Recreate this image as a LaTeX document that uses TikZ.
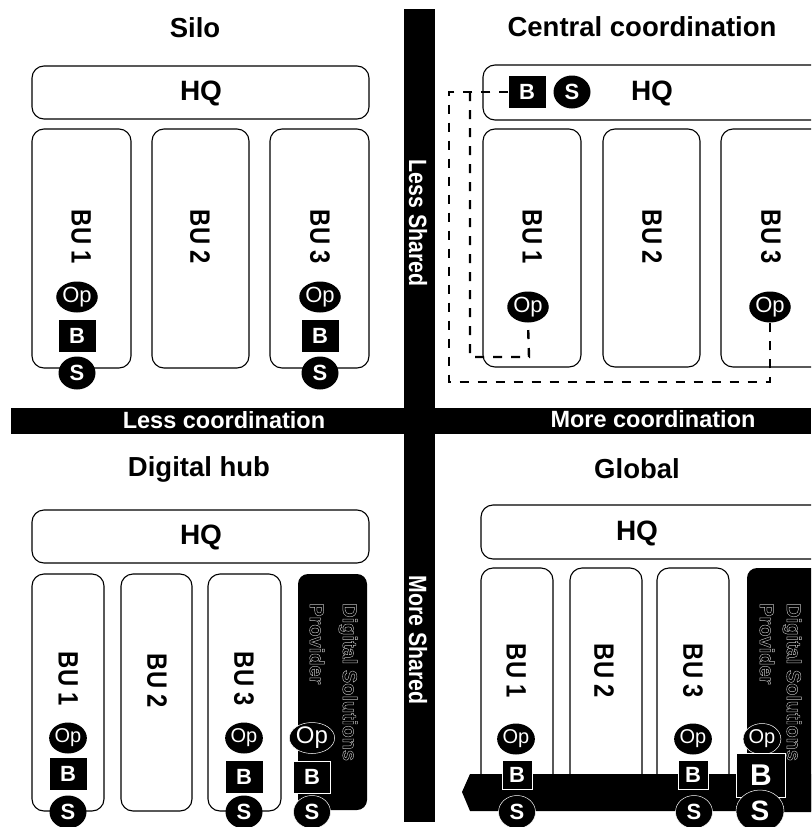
\documentclass[tikz,border=0pt]{standalone}
\usepackage{graphicx}
\usepackage{fontspec}
\setmainfont{Liberation Sans}
\usetikzlibrary{shapes.geometric}
\newcommand\narrowtext[1]{\scalebox{.85}[1]{#1}}
\newcommand\hollowtext[1]{\special{pdf:code 1 Tr 0.45 w 0.75 G}#1\special{pdf:code 0 Tr}}
\tikzset{
  x=1pt,y=-1pt,
  title/.style={font=\fontsize{27.5}{30}\selectfont\bfseries,inner sep=0pt},
  bar/.style={fill=black,draw=none},
  barlabel/.style={font=\fontsize{23.5}{25}\selectfont\bfseries,text=white,inner sep=0pt},
  sidelabel/.style={font=\fontsize{25}{27}\selectfont\bfseries,text=white,inner sep=0pt,rotate=-90},
  box/.style={draw=black,line width=1.1pt,rounded corners=12pt,fill=white},
  boxtext/.style={font=\fontsize{28}{30}\selectfont\bfseries,inner sep=0pt},
  bu/.style={font=\fontsize{28}{30}\selectfont\bfseries,rotate=-90,inner sep=0pt},
  opn/.style={ellipse,fill=black,minimum width=37pt,minimum height=31pt,inner sep=0pt,text=white,font=\fontsize{20}{22}\selectfont},
  opbig/.style={opn,font=\fontsize{22}{24}\selectfont},
  opw/.style={opn,draw=white,line width=.5pt},
  bn/.style={rectangle,fill=black,minimum width=37pt,minimum height=32pt,inner sep=0pt,text=white,font=\fontsize{22}{24}\selectfont\bfseries},
  bs/.style={bn,minimum width=30pt,minimum height=29pt,draw=white,line width=.5pt},
  sn/.style={ellipse,fill=black,minimum width=37pt,minimum height=33pt,inner sep=0pt,text=white,font=\fontsize{22}{24}\selectfont\bfseries},
  sw/.style={sn,draw=white,line width=.5pt},
  dashline/.style={draw=black,line width=2.4pt,dash pattern=on 9pt off 9pt},
  hollow/.style={font=\fontsize{20}{22}\selectfont\bfseries,text=black!55,rotate=-90,inner sep=0pt,anchor=west},
}
\begin{document}
\begin{tikzpicture}
\useasboundingbox (0,0) rectangle (811,827);
\clip (0,0) rectangle (811,827);
% bars
\fill[bar] (11,408) rectangle (811,434);
\fill[bar] (404,9) rectangle (435,822);
\node[barlabel] (lc) at (224,420) {Less coordination};
\node[barlabel] (mc) at (653,419) {More coordination};
\node[sidelabel] (ls) at (418,223) {\narrowtext{Less Shared}};
\node[sidelabel] (ms) at (418,640) {\narrowtext{More Shared}};
% titles
\node[title] (t1) at (195,28) {Silo};
\node[title] (t2) at (642,27) {Central coordination};
\node[title] (t3) at (199,469) {Digital hub};
\node[title] (t4) at (637,469) {Global};
% Silo
\draw[box] (32,66) rectangle (369,119);
\node[boxtext] (hq1) at (201,93) {HQ};
\draw[box] (32,129) rectangle (131,368);
\draw[box] (152,129) rectangle (249,368);
\draw[box] (270,129) rectangle (369,368);
\node[bu] (a1) at (81,237) {\narrowtext{BU 1}};
\node[bu] (a2) at (200,237) {\narrowtext{BU 2}};
\node[bu] (a3) at (320,237) {\narrowtext{BU 3}};
\node[opbig] (aop1) at (77,297) {Op};
\node[bn] (ab1) at (77,336) {B};
\node[sn] (as1) at (77,373) {S};
\node[opbig] (aop3) at (320,297) {Op};
\node[bn] (ab3) at (320,336) {B};
\node[sn] (as3) at (320,373) {S};
% Central
\draw[box] (483,65) rectangle (840,120);
\node[boxtext] (hq2) at (652,93) {HQ};
\draw[box] (483,129) rectangle (581,367);
\draw[box] (603,129) rectangle (700,367);
\draw[box] (721,129) rectangle (840,367);
\node[bu] (b1) at (532,237) {\narrowtext{BU 1}};
\node[bu] (b2) at (652,237) {\narrowtext{BU 2}};
\node[bu] (b3) at (771,237) {\narrowtext{BU 3}};
\node[bn] (bb) at (527,92) {B};
\node[sn] (bs) at (572,92) {S};
\node[opbig] (bop1) at (528,307) {Op};
\node[opbig] (bop3) at (770,307) {Op};
\coordinate (c1) at (449,92);
\coordinate (c2) at (449,382);
\coordinate (c3) at (770,382);
\coordinate (c4) at (470,92);
\coordinate (c5) at (470,357);
\coordinate (c6) at (529,357);
\draw[dashline] (bb.west) -- (c1) -- (c2) -- (c3) -- (bop3.south);
\draw[dashline] (c4) -- (c5) -- (c6) -- (bop1.south);
% Digital hub
\draw[box] (32,510) rectangle (369,563);
\node[boxtext] (hq3) at (201,537) {HQ};
\draw[box] (32,574) rectangle (104,811);
\draw[box] (121,574) rectangle (192,811);
\draw[box] (208,574) rectangle (281,811);
\fill[black,rounded corners=10pt] (298,574) rectangle (367,810);
\node[bu] (d1) at (68,679) {\narrowtext{BU 1}};
\node[bu] (d2) at (157,681) {\narrowtext{BU 2}};
\node[bu] (d3) at (244,679) {\narrowtext{BU 3}};
\node[hollow] (dt1) at (348,603) {\hollowtext{Digital Solutions}};
\node[hollow] (dt2) at (317,603) {\hollowtext{Provider}};
\node[opn] (dop1) at (68,738) {Op};
\node[bn] (db1) at (68,774) {B};
\node[sn] (ds1) at (68,812) {S};
\node[opn] (dop3) at (244,738) {Op};
\node[bn] (db3) at (244,777) {B};
\node[sn] (ds3) at (244,812) {S};
\node[opw,font=\fontsize{24}{26}\selectfont] (dop4) at (312,738) {Op};
\node[bn,draw=white,line width=.5pt] (db4) at (312,777) {B};
\node[sw] (ds4) at (312,812) {S};
% Global
\draw[box] (481,505) rectangle (840,559);
\node[boxtext] (hq4) at (637,533) {HQ};
\draw[box] (481,568) rectangle (553,790);
\draw[box] (570,568) rectangle (642,790);
\draw[box] (657,568) rectangle (729,790);
\fill[black,rounded corners=10pt] (747,568) rectangle (840,812);
\node[bu] (g1) at (516,671) {\narrowtext{BU 1}};
\node[bu] (g2) at (604,671) {\narrowtext{BU 2}};
\node[bu] (g3) at (693,671) {\narrowtext{BU 3}};
\node[hollow] (gt1) at (792,603) {\hollowtext{Digital Solutions}};
\node[hollow] (gt2) at (767,603) {\hollowtext{Provider}};
\fill[black] (462,792) -- (470,774) -- (811,774) -- (811,811) -- (470,811) -- cycle;
\node[opn] (gop1) at (516,739) {Op};
\node[bs] (gb1) at (517,775) {B};
\node[sw] (gs1) at (517,812) {S};
\node[opn] (gop3) at (693,739) {Op};
\node[bs] (gb3) at (693,775) {B};
\node[sw] (gs3) at (694,812) {S};
\node[opw] (gop4) at (762,739) {Op};
\node[bn,draw=white,line width=.5pt,minimum width=49pt,minimum height=44pt,font=\fontsize{30}{32}\selectfont\bfseries] (gb4) at (761,775) {B};
\node[sw,minimum width=48pt,minimum height=42pt,font=\fontsize{28}{30}\selectfont\bfseries] (gs4) at (760,811) {S};
\end{tikzpicture}
\end{document}
